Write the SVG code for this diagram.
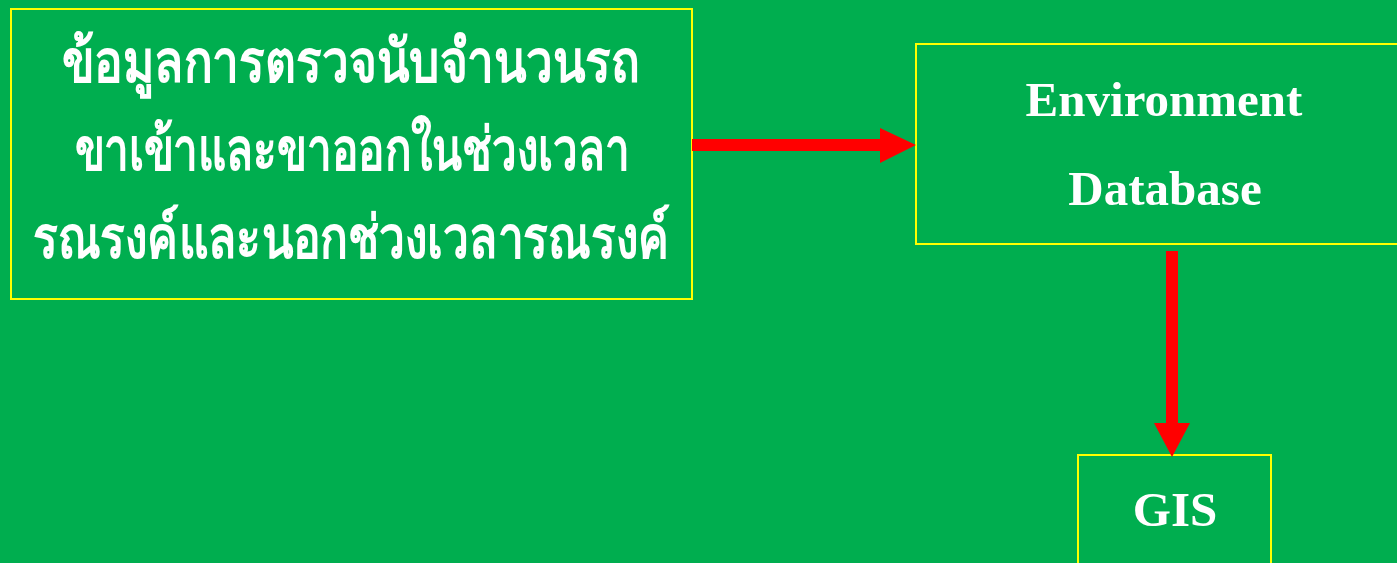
<svg xmlns="http://www.w3.org/2000/svg" width="1397" height="563" viewBox="0 0 1397 563">
<style>
.box{fill:none;stroke:#FFFF00;stroke-width:2}
.th{font-family:"Liberation Serif","Noto Sans",serif;font-weight:bold;font-size:46px;fill:#FFFFFF;text-anchor:middle}
.en{font-family:"Liberation Serif",serif;font-weight:bold;font-size:49px;fill:#FFFFFF;text-anchor:middle}
.arr{fill:#FF0000}
</style>
<rect x="0" y="0" width="1397" height="563" fill="#00AE4F"/>
<g id="node-thai">
<rect class="box" x="11" y="9" width="681" height="290"/>
<text class="th" transform="translate(351,82) scale(1,1.3)" x="0" y="0" textLength="578" lengthAdjust="spacingAndGlyphs">ข้อมูลการตรวจนับจำนวนรถ</text>
<text class="th" transform="translate(352,170) scale(1,1.3)" x="0" y="0" textLength="555" lengthAdjust="spacingAndGlyphs">ขาเข้าและขาออกในช่วงเวลา</text>
<text class="th" transform="translate(351,258) scale(1,1.3)" x="0" y="0" textLength="637" lengthAdjust="spacingAndGlyphs">รณรงค์และนอกช่วงเวลารณรงค์</text>
</g>
<g id="node-envdb">
<rect class="box" x="916" y="44" width="490" height="200"/>
<text class="en" x="1164" y="116">Environment</text>
<text class="en" x="1165" y="205">Database</text>
</g>
<g id="node-gis">
<rect class="box" x="1078" y="455" width="193" height="120"/>
<text class="en" x="1175" y="526">GIS</text>
</g>
<g id="connectors">
<polygon class="arr" points="692,139 880,139 880,128 916,145 880,163 880,151 692,151"/>
<polygon class="arr" points="1166,251 1178,251 1178,423 1190,423 1172,457 1154,423 1166,423"/>
</g>
</svg>
